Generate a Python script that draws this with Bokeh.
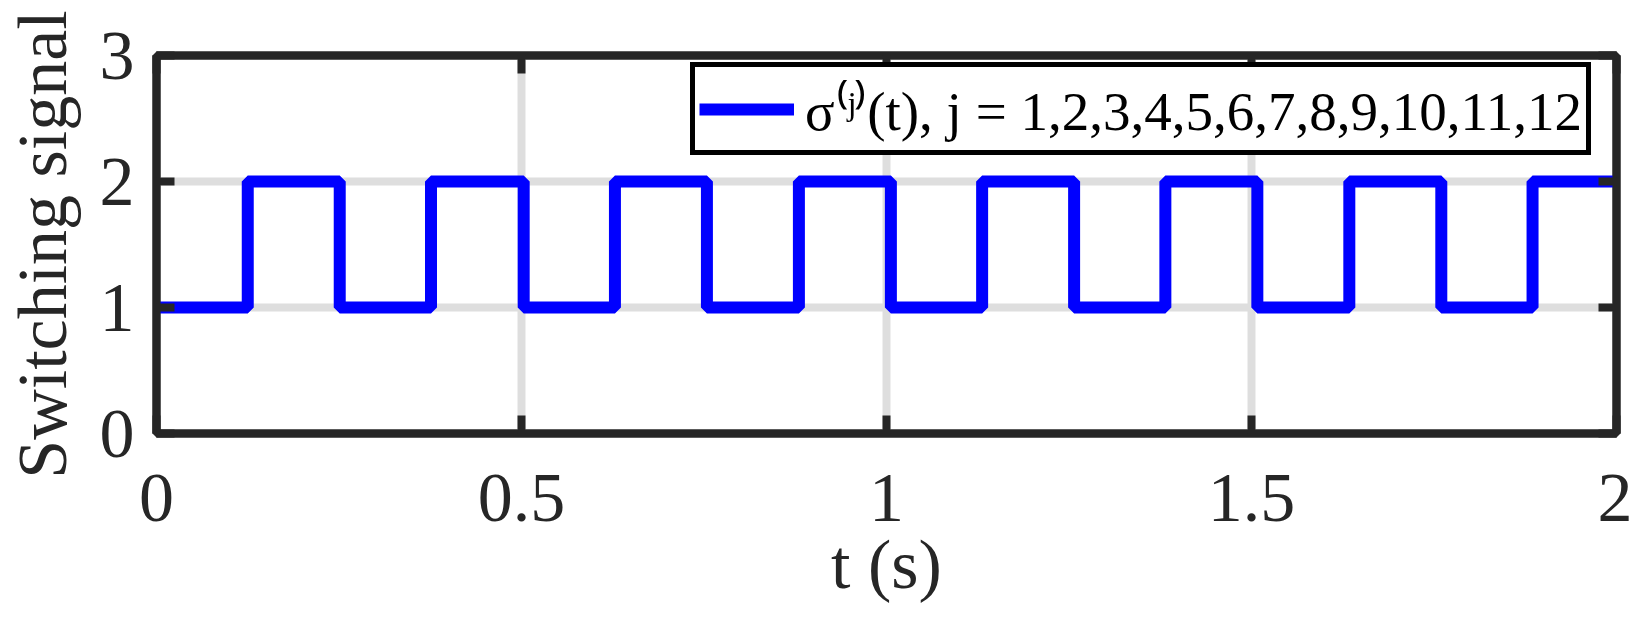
from bokeh.plotting import figure
from bokeh.models import (LinearAxis, Legend, LegendItem, FixedTicker, Range1d,
                          CustomJSTickFormatter)
from bokeh.embed import file_html
from bokeh.resources import INLINE

# ---- data ----
switch_times = [0.125, 0.251, 0.376, 0.503, 0.628, 0.754, 0.880, 1.006,
                1.131, 1.257, 1.382, 1.508, 1.634, 1.760, 1.885]
t_start = 0.0
t_end = 2.0
start_state = 1
other_state = 2
x_ticks = [0, 0.5, 1, 1.5, 2]
y_ticks = [0, 1, 2, 3]
legend_label = "σ⁽ʲ⁾(t), j = 1,2,3,4,5,6,7,8,9,10,11,12"

xs = [t_start] + switch_times + [t_end]
ys = []
state = start_state
for i in range(len(switch_times) + 1):
    ys.append(state)
    state = other_state if state == start_state else start_state
ys.append(ys[-1])

FONT = "Liberation Serif"
DARK = "#262626"

p = figure(width=1632, height=617, output_backend="svg", toolbar_location=None,
           x_range=Range1d(0, 2), y_range=Range1d(0, 3),
           min_border_left=156, min_border_right=16, min_border_top=55,
           min_border_bottom=184)

r = p.step(xs, ys, mode="after", line_color="#0000ff", line_width=12)

for ax in (p.xaxis[0], p.yaxis[0]):
    ax.major_label_text_font = FONT
    ax.major_label_text_font_size = "70px"
    ax.major_label_text_color = DARK
    ax.axis_label_text_font = FONT
    ax.axis_label_text_font_size = "70px"
    ax.axis_label_text_font_style = "normal"
    ax.axis_label_text_color = DARK
    ax.axis_line_color = DARK
    ax.axis_line_width = 8
    ax.major_tick_line_color = DARK
    ax.major_tick_line_width = 8
    ax.major_tick_in = 18
    ax.major_tick_out = 0
    ax.minor_tick_line_color = None

p.xaxis[0].ticker = FixedTicker(ticks=x_ticks)
p.yaxis[0].ticker = FixedTicker(ticks=y_ticks)
p.xaxis[0].axis_label = "t (s)"
p.yaxis[0].axis_label = "Switching signal"
p.xaxis[0].major_label_standoff = 41
p.yaxis[0].major_label_standoff = 22
p.xaxis[0].axis_label_standoff = 2
p.yaxis[0].axis_label_standoff = 16

blank = CustomJSTickFormatter(code="return ''")
for loc, tk in (("above", x_ticks), ("right", y_ticks)):
    ax = LinearAxis(ticker=FixedTicker(ticks=tk), formatter=blank)
    ax.major_label_standoff = 0
    ax.major_label_text_font_size = "10px"
    ax.axis_line_color = DARK
    ax.axis_line_width = 8
    ax.major_tick_line_color = DARK
    ax.major_tick_line_width = 8
    ax.major_tick_in = 18
    ax.major_tick_out = 0
    ax.minor_tick_line_color = None
    p.add_layout(ax, loc)

p.xgrid.ticker = FixedTicker(ticks=x_ticks)
p.ygrid.ticker = FixedTicker(ticks=y_ticks)
for g in (p.xgrid[0], p.ygrid[0]):
    g.grid_line_color = "#dedede"
    g.grid_line_width = 8
    g.grid_line_alpha = 1.0

p.outline_line_color = DARK
p.outline_line_width = 8
p.outline_line_alpha = 1.0

legend = Legend(items=[LegendItem(label=legend_label, renderers=[r])],
                location=(534, 278))
legend.label_text_font = FONT
legend.label_text_font_size = "55px"
legend.label_text_color = "#000000"
legend.glyph_width = 95
legend.glyph_height = 40
legend.label_standoff = 11
legend.padding = 4
legend.margin = 0
legend.border_line_color = "#000000"
legend.border_line_alpha = 1.0
legend.border_line_width = 5
legend.background_fill_color = "#ffffff"
legend.background_fill_alpha = 1.0
p.add_layout(legend, "center")

p.background_fill_color = "#ffffff"
p.border_fill_color = "#ffffff"

open("out.html", "w").write(file_html(p, INLINE))
